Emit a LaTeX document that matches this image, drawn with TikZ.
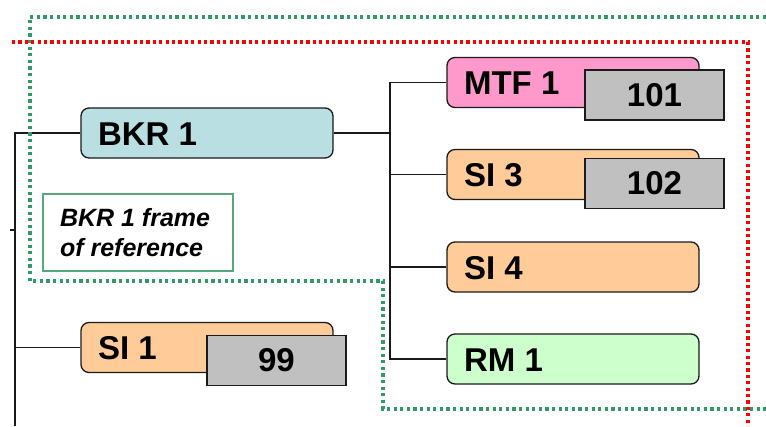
\documentclass[tikz,border=0pt]{standalone}
\usepackage{fontspec}
\setmainfont{Liberation Sans}
\usetikzlibrary{calc}
\definecolor{bkrblue}{HTML}{B9DFE3}
\definecolor{mtfpink}{HTML}{FF99CC}
\definecolor{siorange}{HTML}{FFCC99}
\definecolor{rmgreen}{HTML}{CCFFCC}
\definecolor{idgray}{HTML}{C0C0C0}
\definecolor{framegreen}{HTML}{339966}
\definecolor{labelgreen}{HTML}{5AA57E}
\definecolor{outline}{HTML}{1A1A1A}
\begin{document}
\begin{tikzpicture}[x=1pt,y=-1pt,
  entity/.style={draw=outline, line width=1.3pt, rounded corners=8pt,
    minimum width=252pt, minimum height=50pt, inner sep=0pt},
  idbox/.style={draw=outline, line width=1.3pt, fill=idgray,
    minimum width=139pt, minimum height=50pt, inner sep=0pt,
    font=\bfseries\fontsize{33}{40}\selectfont},
  entname/.style={anchor=west, inner sep=0pt,
    font=\bfseries\fontsize{33}{40}\selectfont},
  conn/.style={draw=outline, line width=1.3pt},
  gdots/.style={draw=framegreen, line width=3.2pt, dash pattern=on 3.2pt off 3.4pt},
  rdots/.style={draw=red, line width=3.2pt, dash pattern=on 3.2pt off 3.2pt}]
\useasboundingbox (0,0) rectangle (766,426);

% entity boxes
\node[entity, fill=bkrblue]  (bkr) at (207,133) {};
\node[entity, fill=siorange] (si1) at (207,347.5) {};
\node[entity, fill=mtfpink]  (mtf) at (573,82.5) {};
\node[entity, fill=siorange] (si3) at (573,174.5) {};
\node[entity, fill=siorange] (si4) at (573,267) {};
\node[entity, fill=rmgreen]  (rm)  at (573,359) {};

% entity names
\node[entname] (bkrtxt) at ($(bkr.west)+(17.5,1)$) {BKR 1};
\node[entname] (si1txt) at ($(si1.west)+(17.5,1)$) {SI 1};
\node[entname] (mtftxt) at ($(mtf.west)+(17.5,1)$) {MTF 1};
\node[entname] (si3txt) at ($(si3.west)+(17.5,1)$) {SI 3};
\node[entname] (si4txt) at ($(si4.west)+(17.5,1)$) {SI 4};
\node[entname] (rmtxt)  at ($(rm.west)+(17.5,1)$)  {RM 1};

% identifier tags
\node[idbox] (id101) at (654.5,95)    {101};
\node[idbox] (id102) at (654.5,183.5) {102};
\node[idbox] (id99)  at (276.5,360.5) {99};

% frame label
\node[draw=labelgreen, line width=1.3pt, minimum width=190pt, minimum height=77pt]
  (framebox) at (138,232.5) {};
\node[anchor=west, inner sep=0pt, align=left,
  font=\bfseries\itshape\fontsize{25}{30}\selectfont]
  (frametxt) at ($(framebox.west)+(17.5,0.5)$) {BKR 1 frame\\of reference};

% left tree
\coordinate (trunk) at (15,133);
\coordinate (trunkend) at (15,426);
\coordinate (tick) at (10,230);
\draw[conn] (bkr.west) -- (trunk) -- (trunkend);
\draw[conn] (si1.west) -- (si1.west -| trunk);
\draw[conn] (tick) -- (tick -| trunk);

% right tree
\coordinate (hub) at (390,133);
\draw[conn] (bkr.east) -- (hub);
\draw[conn] (mtf.west) -- (mtf.west -| hub) -- (rm.west -| hub) -- (rm.west);
\draw[conn] (si3.west) -- (si3.west -| hub);
\draw[conn] (si4.west) -- (si4.west -| hub);

% frames of reference
\draw[gdots] (766,17) -- (30,17) -- (30,281) -- (383,281) -- (383,409) -- (766,409);
\draw[rdots] (12,42) -- (748,42) -- (748,426);
\end{tikzpicture}
\end{document}
